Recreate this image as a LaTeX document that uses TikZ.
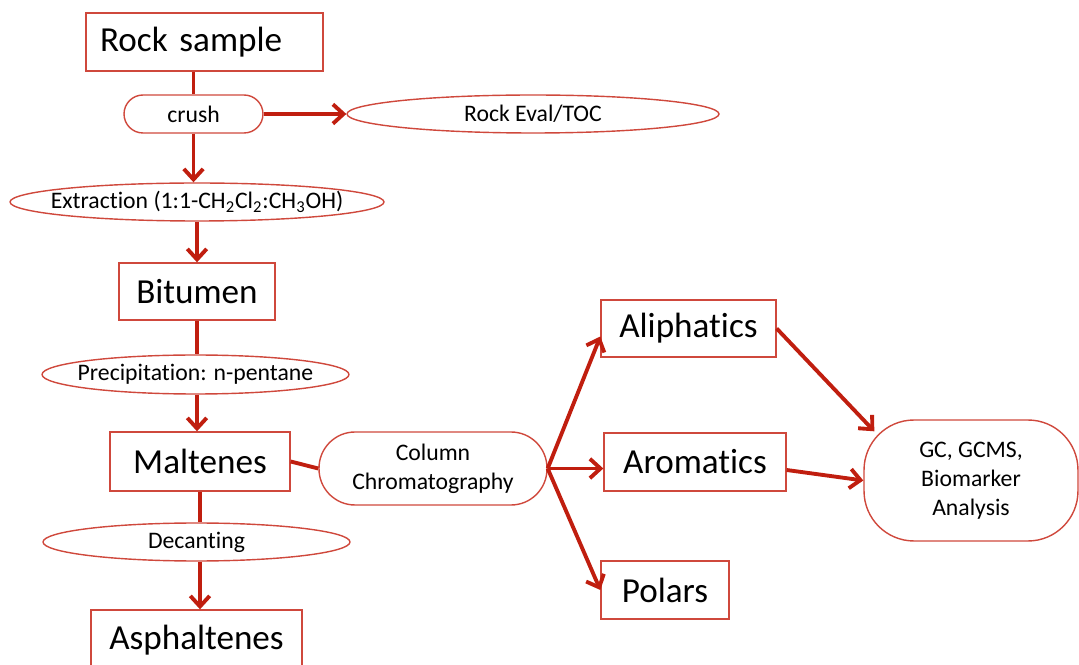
\documentclass[tikz,border=0pt]{standalone}
\usepackage{fontspec}
\setmainfont{Carlito}[Ligatures=CommonOff]
\usepackage{xcolor}
\usetikzlibrary{arrows.meta, shapes.geometric, calc}
\definecolor{boxred}{RGB}{207,72,60}
\definecolor{linkred}{RGB}{192,30,15}

\begin{document}
\begin{tikzpicture}[
    x=0.02cm, y=-0.02cm,
    box/.style={draw=boxred, line width=0.8pt, rectangle, inner sep=0pt, align=center, font=\fontsize{20}{24}\selectfont},
    pill/.style={draw=boxred, line width=0.8pt, rectangle, rounded corners=0.38cm, inner sep=0pt, align=center, font=\fontsize{13.5}{16.5}\selectfont},
    oval/.style={draw=boxred, line width=0.8pt, ellipse, inner ysep=0pt, inner xsep=-1cm, align=center, font=\fontsize{13.5}{16.5}\selectfont},
    link/.style={draw=linkred, line width=2.2pt},
    arrow/.style={link, -{Straight Barb[length=6pt, width=11pt]}}
]
\clip (0,0) rectangle (1079,665);

% Left column
\node (rock) [box, minimum width=4.74cm, minimum height=1.16cm, text width=4.18cm, inner xsep=0.28cm, align=left] at (204.5,42) {Rock sample};
\node (crush) [pill, minimum width=2.78cm, minimum height=0.76cm] at (193.5,114) {crush};
\node (rockeval) [oval, minimum width=7.44cm, minimum height=0.76cm] at (533,114) {Rock Eval/TOC};
\node (extract) [oval, minimum width=7.48cm, minimum height=0.76cm] at (197,202) {Extraction (1:1-CH\textsubscript{2}Cl\textsubscript{2}:CH\textsubscript{3}OH)};
\node (bitumen) [box, minimum width=3.12cm, minimum height=1.14cm] at (197,291.5) {Bitumen};
\node (precip) [oval, minimum width=6.14cm, minimum height=0.78cm] at (195.5,374.5) {Precipitation: n-pentane};
\node (maltenes) [box, minimum width=3.6cm, minimum height=1.18cm] at (200,461.5) {Maltenes};
\node (decant) [oval, minimum width=6.14cm, minimum height=0.76cm] at (196.5,542) {Decanting};
\node (asphalt) [box, minimum width=4.22cm, minimum height=1.2cm] at (196.5,640) {Asphaltenes};

% Fractions
\node (column) [pill, rounded corners=0.72cm, minimum width=4.56cm, minimum height=1.46cm] at (433,468.5) {Column\\Chromatography};
\node (aliph) [box, minimum width=3.5cm, minimum height=1.14cm] at (688.5,328.5) {Aliphatics};
\node (arom) [box, minimum width=3.64cm, minimum height=1.16cm] at (695,462) {Aromatics};
\node (polars) [box, minimum width=2.56cm, minimum height=1.16cm] at (665,590) {Polars};
\node (gc) [pill, rounded corners=1cm, minimum width=4.28cm, minimum height=2.42cm] at (971,480.5) {GC, GCMS,\\Biomarker\\Analysis};

% Paths
\draw [link] (rock.south -| crush.north) -- (crush.north);
\draw [arrow] (crush) -- (rockeval);
\draw [arrow] (crush.south) -- (crush.south |- extract.north);
\draw [arrow] (extract.south -| bitumen.north) -- (bitumen.north);
\draw [link] (bitumen.south) -- (bitumen.south |- precip.north);
\draw [arrow] (precip.south -| bitumen.south) -- (bitumen.south |- maltenes.north);
\draw [link] (maltenes.south) -- (maltenes.south |- decant.north);
\draw [arrow] (decant.south -| maltenes.south) -- (maltenes.south |- asphalt.north);
\draw [link] (maltenes.east) -- (column.west);
\draw [arrow] (column.east) -- ([yshift=-0.16cm]aliph.west);
\draw [arrow] (column.east) -- (arom.west |- column.east);
\draw [arrow] (column.east) -- (polars.west);
\draw [arrow] (aliph.east) -- ($(gc.north west)+(11,12)$);
\draw [arrow] ([yshift=-0.16cm]arom.east) -- (gc.west);

\end{tikzpicture}
\end{document}
